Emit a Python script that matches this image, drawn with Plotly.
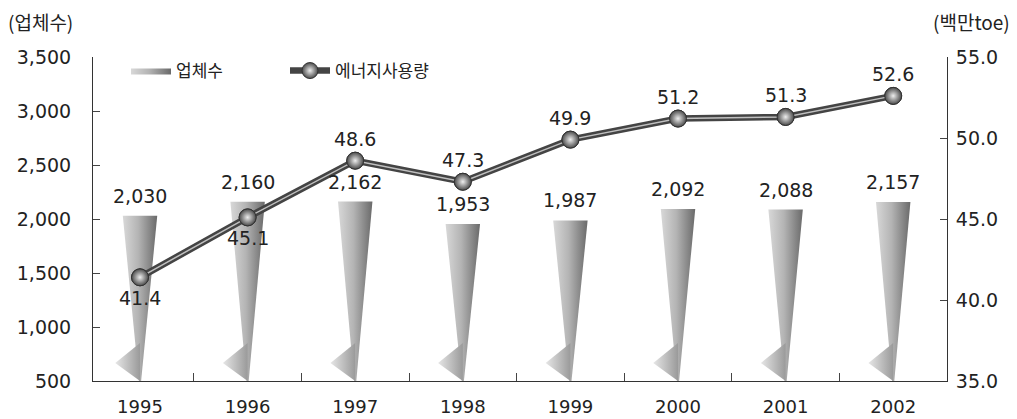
import plotly.graph_objects as go

# ---------------- data ----------------
years = ["1995", "1996", "1997", "1998", "1999", "2000", "2001", "2002"]
companies = [2030, 2160, 2162, 1953, 1987, 2092, 2088, 2157]          # 업체수 (left axis)
energy = [41.4, 45.1, 48.6, 47.3, 49.9, 51.2, 51.3, 52.6]             # 에너지사용량 (right axis, 백만toe)
energy_label_side = ["below", "below", "above", "above", "above", "above", "above", "above"]
left_ticks = [500, 1000, 1500, 2000, 2500, 3000, 3500]
right_ticks = [35, 40, 45, 50, 55]

# ---------------- style constants ----------------
BASE = 500
HALF_W = 0.16        # half width of cone top (category units)
FLARE_W = 0.23       # bottom-left flare extent
FLARE_TOP = 852
FLARE_MID = 667
NUM_FONT = "DejaVu Sans"
KR_FONT = "Noto Sans CJK KR"
INK = "#222222"

fig = go.Figure()
xs = list(range(len(years)))

# cone-shaped bars
for i, (x, v) in enumerate(zip(xs, companies)):
    fig.add_trace(go.Scatter(
        x=[x - HALF_W, x + HALF_W, x + 0.01, x - 0.01, x - HALF_W],
        y=[v, v, BASE, BASE, v],
        mode="lines", line=dict(width=0, color="rgba(0,0,0,0)"),
        fill="toself",
        fillgradient=dict(type="horizontal",
                          colorscale=[[0, "#d8d8d8"], [0.45, "#b4b4b4"], [1, "#6a6a6a"]]),
        name="업체수", legendgroup="bars", showlegend=(i == 0),
        hoverinfo="skip", yaxis="y",
    ))
    fig.add_trace(go.Scatter(
        x=[x - FLARE_W, x, x, x - FLARE_W],
        y=[FLARE_MID, FLARE_TOP, BASE, FLARE_MID],
        mode="lines", line=dict(width=0, color="rgba(0,0,0,0)"),
        fill="toself",
        fillgradient=dict(type="horizontal",
                          colorscale=[[0, "#e6e6e6"], [1, "#9a9a9a"]]),
        legendgroup="bars", showlegend=False, hoverinfo="skip", yaxis="y",
    ))

marker_style = dict(size=17, color="#4a4a4a", symbol="circle",
                    gradient=dict(type="radial", color="#eeeeee"),
                    line=dict(color="#333333", width=1))

# energy line: dark tube + light highlight
fig.add_trace(go.Scatter(
    x=xs, y=energy, yaxis="y2", mode="lines+markers",
    line=dict(color="#444444", width=6.5),
    marker=marker_style,
    name="에너지사용량", hoverinfo="skip",
))
fig.add_trace(go.Scatter(
    x=xs, y=energy, yaxis="y2", mode="lines",
    line=dict(color="#c0c0c0", width=1.5),
    showlegend=False, hoverinfo="skip",
))
fig.add_trace(go.Scatter(
    x=xs, y=energy, yaxis="y2", mode="markers",
    marker=marker_style, showlegend=False, hoverinfo="skip",
))

# year labels on an overlaying x axis (boundary ticks live on the main one)
fig.add_trace(go.Scatter(x=xs, y=[None] * len(xs), xaxis="x2", showlegend=False, hoverinfo="skip"))

W, H = 1017, 419
L, R, T, B = 93, 70, 57, 38
pw, ph = W - L - R, H - T - B

annotations = []
for x, v in zip(xs, companies):
    annotations.append(dict(x=x, y=v, xref="x", yref="y", text=f"{v:,}", showarrow=False,
                            yshift=20, font=dict(family=NUM_FONT, size=19, color=INK)))
for x, v, side in zip(xs, energy, energy_label_side):
    annotations.append(dict(x=x, y=v, xref="x", yref="y2", text=f"{v:.1f}", showarrow=False,
                            yshift=(22 if side == "above" else -21),
                            font=dict(family=NUM_FONT, size=19, color=INK)))
annotations.append(dict(x=(6 - L) / pw, y=(H - B - 22) / ph, xref="paper", yref="paper",
                        text="(업체수)", showarrow=False, xanchor="left", yanchor="middle",
                        font=dict(family=KR_FONT, size=19, color=INK)))
annotations.append(dict(x=(1012 - L) / pw, y=(H - B - 22) / ph, xref="paper", yref="paper",
                        text="(백만toe)", showarrow=False, xanchor="right", yanchor="middle",
                        font=dict(family=KR_FONT, size=19, color=INK)))

xr = [-0.437, 7.5]
fig.update_layout(
    width=W, height=H,
    margin=dict(l=L, r=R, t=T, b=B, autoexpand=False),
    paper_bgcolor="white", plot_bgcolor="white",
    showlegend=True,
    legend=dict(orientation="h", x=(126 - L) / pw, y=(H - B - 71) / ph,
                xanchor="left", yanchor="middle",
                font=dict(family=KR_FONT, size=17, color=INK),
                bgcolor="rgba(0,0,0,0)", entrywidth=104, entrywidthmode="pixels",
                itemwidth=40, tracegroupgap=0),
    xaxis=dict(range=xr, tickvals=[i + 0.5 for i in range(len(years) - 1)],
               ticktext=[""] * (len(years) - 1), ticks="inside", ticklen=8,
               tickcolor="#444", showgrid=False, zeroline=False, automargin=False,
               showline=True, linecolor="#333", linewidth=1, fixedrange=True),
    xaxis2=dict(range=xr, overlaying="x", side="bottom", tickvals=xs, ticktext=years,
                ticks="", showgrid=False, zeroline=False, showline=False, automargin=False,
                tickfont=dict(family=NUM_FONT, size=18, color=INK), ticklabelstandoff=13),
    yaxis=dict(range=[500, 3500], tickvals=left_ticks,
               ticktext=[f"{t:,}" for t in left_ticks], ticks="inside", ticklen=7,
               tickcolor="#444", showgrid=False, zeroline=False, automargin=False,
               showline=True, linecolor="#333", linewidth=1,
               tickfont=dict(family=NUM_FONT, size=19, color=INK), ticklabelstandoff=17),
    yaxis2=dict(range=[35, 55], tickvals=right_ticks,
                ticktext=[f"{t:.1f}" for t in right_ticks], overlaying="y", side="right",
                ticks="inside", ticklen=7, tickcolor="#444", showgrid=False, zeroline=False,
                showline=True, linecolor="#333", linewidth=1, automargin=False,
                tickfont=dict(family=NUM_FONT, size=19, color=INK), ticklabelstandoff=4),
    annotations=annotations,
)

fig.write_html("out.html", config={"displayModeBar": False},
               post_script="document.body.style.margin='0';")
